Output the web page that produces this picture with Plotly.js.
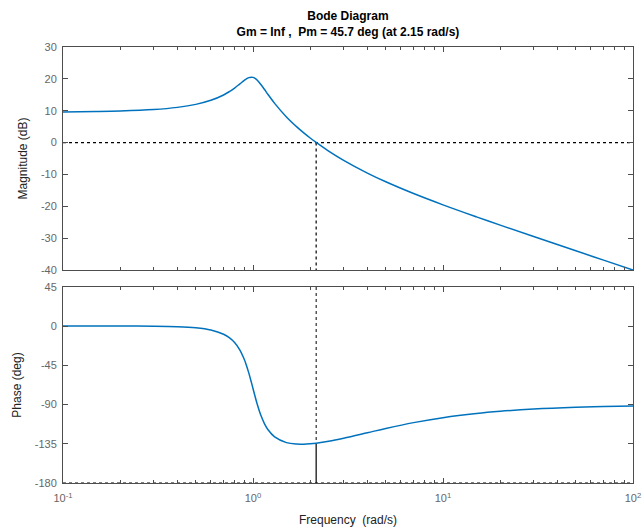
<!DOCTYPE html>
<html>
<head>
<meta charset="utf-8">
<script src="https://cdn.plot.ly/plotly-3.0.1.min.js"></script>
<style>html,body{margin:0;padding:0;background:#fff;}#chart{width:642px;height:529px;}</style>
</head>
<body>
<div id="chart"></div>
<script>
// Frequencies (rad/s)
const freq = [0.1, 0.15, 0.2, 0.3, 0.4, 0.5, 0.6, 0.7, 0.75, 0.8, 0.85, 0.9, 0.92, 0.95, 0.98, 1.0, 1.02, 1.05, 1.1, 1.15, 1.2, 1.3, 1.5, 1.7, 1.85, 2.0, 2.15, 2.5, 3, 4, 5, 7, 10, 15, 20, 30, 50, 70, 100];
// Magnitude (dB)
const magDb = [9.63, 9.74, 9.90, 10.36, 11.05, 11.99, 13.26, 14.94, 15.97, 17.12, 18.35, 19.54, 19.94, 20.38, 20.54, 20.46, 20.23, 19.64, 18.24, 16.65, 15.09, 12.31, 8.04, 4.92, 3.03, 1.43, 0.03, -2.66, -5.56, -9.57, -12.31, -16.00, -19.54, -23.31, -25.90, -29.49, -33.96, -36.89, -40.0];
// Phase (deg)
const phaseDeg = [0.17, 0.22, 0.24, 0.06, -0.54, -1.85, -4.40, -9.25, -13.18, -18.76, -26.76, -38.16, -43.85, -53.54, -64.24, -71.57, -78.74, -88.73, -102.33, -112.10, -118.91, -127.09, -133.63, -135.36, -135.44, -135.0, -134.27, -132.06, -128.58, -122.30, -117.38, -110.69, -104.96, -100.16, -97.67, -95.14, -93.09, -92.21, -91.55];

// Margin annotations
const xRange = [0.1, 100];
const wc = 2.15;          // gain crossover (rad/s)
const phaseAtWc = -134.3; // phase at crossover (deg)
const magRange = [-40, 30];
const phaseRange = [-180, 45];
const magTicks = [-40, -30, -20, -10, 0, 10, 20, 30];
const magTickText = ['-40', '-30', '-20', '-10', '0', '10', '20', '30'];
const phaseTicks = [-180, -135, -90, -45, 0, 45];
const phaseTickText = ['-180', '-135', '-90', '-45', '0', '45'];
const freqTickVals = [0.1, 1, 10, 100];
const freqTickText = ['10<sup>-1</sup>', '10<sup>0</sup>', '10<sup>1</sup>', '10<sup>2</sup>'];
const freqMinorVals = [0.2, 0.3, 0.4, 0.5, 0.6, 0.7, 0.8, 0.9, 2, 3, 4, 5, 6, 7, 8, 9, 20, 30, 40, 50, 60, 70, 80, 90];

const blue = '#0072BD';
const traces = [
  {x: xRange, y: [0, 0], xaxis: 'x', yaxis: 'y', mode: 'lines', line: {color: '#000', width: 1.2, dash: 'dot'}, hoverinfo: 'skip'},
  {x: [wc, wc], y: [0, magRange[0]], xaxis: 'x', yaxis: 'y', mode: 'lines', line: {color: '#000', width: 1.2, dash: 'dot'}, hoverinfo: 'skip'},
  {x: freq, y: magDb, xaxis: 'x', yaxis: 'y', mode: 'lines', line: {color: blue, width: 1.5, shape: 'spline'}},
  {x: xRange, y: [phaseRange[0], phaseRange[0]], xaxis: 'x2', yaxis: 'y2', mode: 'lines', line: {color: '#000', width: 1.2, dash: 'dot'}, hoverinfo: 'skip'},
  {x: [wc, wc], y: [phaseRange[1], phaseAtWc], xaxis: 'x2', yaxis: 'y2', mode: 'lines', line: {color: '#000', width: 1, dash: 'dot'}, hoverinfo: 'skip'},
  {x: [wc, wc], y: [phaseRange[0], phaseAtWc], xaxis: 'x2', yaxis: 'y2', mode: 'lines', line: {color: '#000', width: 1.2}, hoverinfo: 'skip'},
  {x: freq, y: phaseDeg, xaxis: 'x2', yaxis: 'y2', mode: 'lines', line: {color: blue, width: 1.5, shape: 'spline'}}
];

const tickFont = {family: 'Liberation Sans, Arial, sans-serif', size: 11, color: '#666666'};
const labFont = {family: 'Liberation Sans, Arial, sans-serif', size: 12, color: '#222'};
const axCommon = {
  showgrid: false, zeroline: false, showline: true, linecolor: '#4d4d4d', linewidth: 1,
  mirror: 'allticks', ticks: 'inside', ticklen: 5, tickcolor: '#4d4d4d', tickfont: tickFont,
  tickmode: 'array'
};
const xCommon = Object.assign({}, axCommon, {
  type: 'log', range: [-1, 2], tickvals: freqTickVals, ticktext: freqTickText,
  minor: {tickmode: 'array', tickvals: freqMinorVals, ticks: 'inside', ticklen: 3, tickcolor: '#4d4d4d', showgrid: false}
});

const layout = {
  width: 642, height: 529,
  margin: {l: 63, r: 9, t: 47, b: 46},
  paper_bgcolor: '#fff', plot_bgcolor: '#fff',
  showlegend: false,
  title: {
    text: '<b>Bode Diagram</b><br><b>Gm = Inf ,  Pm = 45.7 deg (at 2.15 rad/s)</b>',
    font: {family: 'Liberation Sans, Arial, sans-serif', size: 12, color: '#000'},
    x: 0.542, xanchor: 'center', yref: 'container', y: 0.962, yanchor: 'top'
  },
  xaxis: Object.assign({}, xCommon, {anchor: 'y', showticklabels: false, matches: 'x2'}),
  yaxis: Object.assign({}, axCommon, {domain: [0.4885, 1], range: magRange, tickvals: magTicks, ticktext: magTickText,
    ticklabelstandoff: 3, title: {text: 'Magnitude (dB)', font: labFont, standoff: 10}}),
  xaxis2: Object.assign({}, xCommon, {anchor: 'y2', ticklabelstandoff: 5,
    title: {text: 'Frequency  (rad/s)', font: labFont, standoff: 12}}),
  yaxis2: Object.assign({}, axCommon, {domain: [0, 0.4495], range: phaseRange, tickvals: phaseTicks, ticktext: phaseTickText,
    ticklabelstandoff: 3, title: {text: 'Phase (deg)', font: labFont, standoff: 10}})
};

Plotly.newPlot('chart', traces, layout, {displayModeBar: false, staticPlot: true});
</script>
</body>
</html>
